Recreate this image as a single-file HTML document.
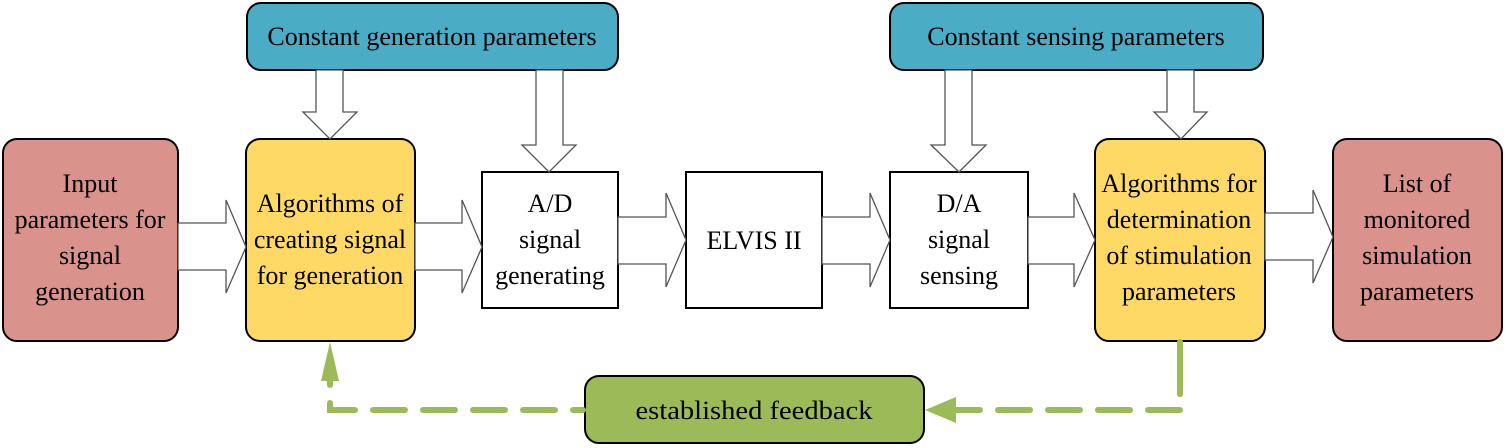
<!DOCTYPE html>
<html><head><style>
html,body{margin:0;padding:0;background:#fff;}
svg{display:block;}
text{font-family:"Liberation Serif",serif;font-size:26px;fill:#000;text-anchor:middle;}
</style></head><body>
<svg width="1505" height="448" viewBox="0 0 1505 448" xmlns="http://www.w3.org/2000/svg">
<g stroke="#000" stroke-width="2">
<rect x="3" y="139" width="175" height="202" rx="14" fill="#d9928c"/>
<rect x="246" y="139" width="169" height="202" rx="14" fill="#fed966"/>
<rect x="482" y="172" width="136" height="136" fill="#fff"/>
<rect x="686" y="172" width="136" height="136" fill="#fff"/>
<rect x="890" y="172" width="138" height="136" fill="#fff"/>
<rect x="1095" y="139" width="170" height="202" rx="14" fill="#fed966"/>
<rect x="1333" y="139" width="169" height="202" rx="14" fill="#d9928c"/>
<rect x="247" y="3" width="371" height="67" rx="14" fill="#4bacc6"/>
<rect x="890" y="3" width="373" height="67" rx="14" fill="#4bacc6"/>
<rect x="585" y="376" width="339" height="67" rx="14" fill="#9bbb59"/>
</g>
<g fill="#fff" stroke="#555" stroke-width="1.3">
<polygon points="178,223 226,223 226,200 246,247 226,293 226,270 178,270"/>
<polygon points="415,223 462,223 462,200 482,247 462,293 462,270 415,270"/>
<polygon points="618,217 666,217 666,193 686,240 666,287 666,264 618,264"/>
<polygon points="822,217 870,217 870,193 890,240 870,287 870,264 822,264"/>
<polygon points="1028,217 1074,217 1074,193 1095,240 1074,287 1074,264 1028,264"/>
<polygon points="1265,213 1313,213 1313,190 1333,237 1313,283 1313,260 1265,260"/>
<polygon points="316,70 343,70 343,112 357,112 330,139 303,112 316,112"/>
<polygon points="536,70 563,70 563,145 576,145 549,172 522,145 536,145"/>
<polygon points="945,70 972,70 972,145 986,145 959,172 931,145 945,145"/>
<polygon points="1167,70 1194,70 1194,112 1207,112 1181,139 1154,112 1167,112"/>
</g>
<g stroke="#9bbb59" stroke-width="6" fill="none" stroke-linecap="round">
<line x1="1180" y1="342" x2="1180" y2="394"/>
<polyline points="1180,394 1180,410 955,410" stroke-dasharray="0 16 32 18 32 18 32 18 32 18 32 18"/>
<polyline points="583,410 330,410 330,382" stroke-dasharray="10 18 32 18 32 18 32 18 32 18 32 18 200"/>
</g>
<g fill="#9bbb59">
<polygon points="925,410 956,397 956,423"/>
<polygon points="330,342 321,381 339,381"/>
</g>
<text x="432" y="45" font-size="27">Constant generation parameters</text>
<text x="1076" y="45" font-size="27">Constant sensing parameters</text>
<text x="754" y="419" font-size="28" textLength="237" lengthAdjust="spacingAndGlyphs">established feedback</text>
<text x="754" y="249">ELVIS II</text>
<text><tspan x="90" y="192">Input</tspan><tspan x="90" y="228">parameters for</tspan><tspan x="90" y="264">signal</tspan><tspan x="90" y="300">generation</tspan></text>
<text><tspan x="330" y="212">Algorithms of</tspan><tspan x="330" y="248">creating signal</tspan><tspan x="330" y="284">for generation</tspan></text>
<text><tspan x="550" y="212">A/D</tspan><tspan x="550" y="248">signal</tspan><tspan x="550" y="284">generating</tspan></text>
<text><tspan x="959" y="212">D/A</tspan><tspan x="959" y="248">signal</tspan><tspan x="959" y="284">sensing</tspan></text>
<text><tspan x="1179" y="192">Algorithms for</tspan><tspan x="1179" y="228">determination</tspan><tspan x="1179" y="264">of stimulation</tspan><tspan x="1179" y="300">parameters</tspan></text>
<text><tspan x="1417" y="192">List of</tspan><tspan x="1417" y="228">monitored</tspan><tspan x="1417" y="264">simulation</tspan><tspan x="1417" y="300">parameters</tspan></text>
</svg>
</body></html>
